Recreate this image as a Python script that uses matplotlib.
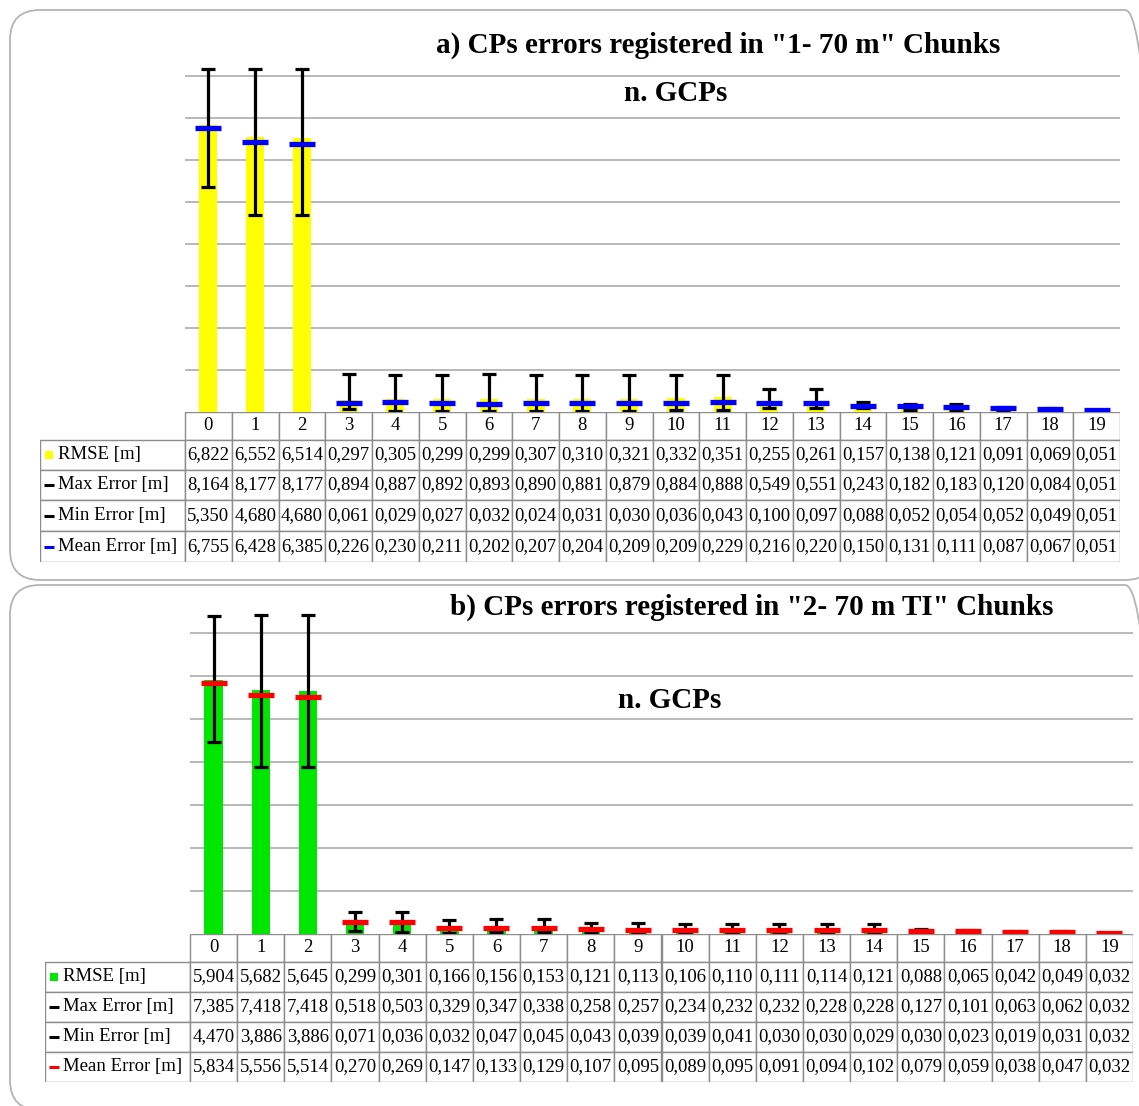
import matplotlib
matplotlib.use("Agg")
import matplotlib.pyplot as plt
from matplotlib.patches import Rectangle, FancyBboxPatch
import numpy as np

plt.rcParams['font.family'] = ['Liberation Serif', 'DejaVu Serif']

W, H = 1139, 1106

n_gcps = list(range(20))
row_names = ["RMSE [m]", "Max Error [m]", "Min Error [m]", "Mean Error [m]"]

# panel a) "1- 70 m" chunks
rmse_a = [6.822, 6.552, 6.514, 0.297, 0.305, 0.299, 0.299, 0.307, 0.310, 0.321,
          0.332, 0.351, 0.255, 0.261, 0.157, 0.138, 0.121, 0.091, 0.069, 0.051]
max_a = [8.164, 8.177, 8.177, 0.894, 0.887, 0.892, 0.893, 0.890, 0.881, 0.879,
         0.884, 0.888, 0.549, 0.551, 0.243, 0.182, 0.183, 0.120, 0.084, 0.051]
min_a = [5.350, 4.680, 4.680, 0.061, 0.029, 0.027, 0.032, 0.024, 0.031, 0.030,
         0.036, 0.043, 0.100, 0.097, 0.088, 0.052, 0.054, 0.052, 0.049, 0.051]
mean_a = [6.755, 6.428, 6.385, 0.226, 0.230, 0.211, 0.202, 0.207, 0.204, 0.209,
          0.209, 0.229, 0.216, 0.220, 0.150, 0.131, 0.111, 0.087, 0.067, 0.051]

# panel b) "2- 70 m TI" chunks
rmse_b = [5.904, 5.682, 5.645, 0.299, 0.301, 0.166, 0.156, 0.153, 0.121, 0.113,
          0.106, 0.110, 0.111, 0.114, 0.121, 0.088, 0.065, 0.042, 0.049, 0.032]
max_b = [7.385, 7.418, 7.418, 0.518, 0.503, 0.329, 0.347, 0.338, 0.258, 0.257,
         0.234, 0.232, 0.232, 0.228, 0.228, 0.127, 0.101, 0.063, 0.062, 0.032]
min_b = [4.470, 3.886, 3.886, 0.071, 0.036, 0.032, 0.047, 0.045, 0.043, 0.039,
         0.039, 0.041, 0.030, 0.030, 0.029, 0.030, 0.023, 0.019, 0.031, 0.032]
mean_b = [5.834, 5.556, 5.514, 0.270, 0.269, 0.147, 0.133, 0.129, 0.107, 0.095,
          0.089, 0.095, 0.091, 0.094, 0.102, 0.079, 0.059, 0.038, 0.047, 0.032]

fig = plt.figure(figsize=(W / 100, H / 100), dpi=100)


def px_rect(x0, y_top, x1, y_bot):
    # pixel box (top-left origin) -> figure fraction rect
    return [x0 / W, 1 - y_bot / H, (x1 - x0) / W, (y_bot - y_top) / H]


def fmt(v):
    return f"{v:.3f}".replace(".", ",")


def panel(box_top, box_bot, x_lab, x0, x1, y_base, px_unit, ymax, rows_px,
          rmse, mx, mn, mean, bar_col, mean_col, title, title_xy, sub_xy):
    # rounded frame
    fig.patches.append(FancyBboxPatch((0.10, (H - box_bot) / 100), 11.45, (box_bot - box_top) / 100,
                                      boxstyle="round,pad=0,rounding_size=0.3",
                                      transform=fig.dpi_scale_trans, fc="none",
                                      ec="#b4b4b4", lw=1.3))
    top = y_base - ymax * px_unit
    ax = fig.add_axes(px_rect(x0, top, x1, y_base))
    x = np.array(n_gcps)
    ax.bar(x, rmse, width=0.39, color=bar_col, zorder=2)
    lo = np.array(mn)
    ax.errorbar(x, lo, yerr=[np.zeros(len(x)), np.array(mx) - lo], fmt="none",
                ecolor="black", elinewidth=2.3, capsize=4.8, capthick=2.3, zorder=3)
    ax.plot(x, mean, linestyle="none", marker="_", ms=19, mew=3.8, color=mean_col, zorder=4)
    ax.set_xlim(-0.5, 19.5)
    ax.set_ylim(0, ymax)
    ax.set_yticks(range(1, int(ymax) + 1))
    ax.yaxis.grid(True, color="#a6a6a6", lw=1.1)
    ax.set_axisbelow(True)
    ax.tick_params(left=False, bottom=False, labelleft=False, labelbottom=False)
    for s in ax.spines.values():
        s.set_visible(False)

    # data table
    ncol = len(n_gcps)
    col_w = (x1 - x0) / ncol
    lab_units = (x0 - x_lab) / col_w
    tax = fig.add_axes(px_rect(x_lab, rows_px[0], x1, rows_px[-1]))
    tax.set_xlim(-lab_units, ncol)
    tax.set_ylim(rows_px[-1], rows_px[0])
    tax.axis("off")
    edge = "#8c8c8c"
    for j in range(ncol):
        tax.add_patch(Rectangle((j, rows_px[0]), 1, rows_px[1] - rows_px[0], fc="white", ec=edge, lw=1))
        tax.text(j + 0.5, (rows_px[0] + rows_px[1]) / 2, str(n_gcps[j]), ha="center", va="center", fontsize=13.5)
    series = [rmse, mx, mn, mean]
    markers = [("s", bar_col, 6, 0), ("_", "black", 7, 2.2), ("_", "black", 7, 2.2), ("_", mean_col, 7, 2.2)]
    for i, vals in enumerate(series):
        yt, yb = rows_px[i + 1], rows_px[i + 2]
        yc = (yt + yb) / 2
        tax.add_patch(Rectangle((-lab_units, yt), lab_units, yb - yt, fc="white", ec=edge, lw=1))
        m, c, ms, mew = markers[i]
        tax.plot([-lab_units + 9 / col_w], [yc], marker=m, color=c, ms=ms, mew=mew, linestyle="none")
        tax.text(-lab_units + 18 / col_w, yc, row_names[i], ha="left", va="center", fontsize=13.5)
        for j in range(ncol):
            tax.add_patch(Rectangle((j, yt), 1, yb - yt, fc="white", ec=edge, lw=1))
            tax.text(j + 0.5, yc, fmt(vals[j]), ha="center", va="center", fontsize=13.5)

    fig.text(title_xy[0] / W, 1 - title_xy[1] / H, title, ha="center", va="center",
             fontsize=21, fontweight="bold")
    fig.text(sub_xy[0] / W, 1 - sub_xy[1] / H, "n. GCPs", ha="center", va="center",
             fontsize=21, fontweight="bold")


panel(10, 580, 40, 185, 1120, 412, 42.0, 8.5, [412, 440, 470, 500, 531, 562],
      rmse_a, max_a, min_a, mean_a, "#ffff00", "#0000ff",
      'a) CPs errors registered in "1- 70 m" Chunks', (718, 45), (676, 94))
panel(585, 1110, 45, 190, 1133, 934, 43.0, 7.8, [934, 962, 992, 1022, 1052, 1082],
      rmse_b, max_b, min_b, mean_b, "#00e600", "#ff0000",
      'b) CPs errors registered in "2- 70 m TI" Chunks', (752, 607), (670, 700))

fig.savefig("out.png", dpi=100, facecolor="white")
